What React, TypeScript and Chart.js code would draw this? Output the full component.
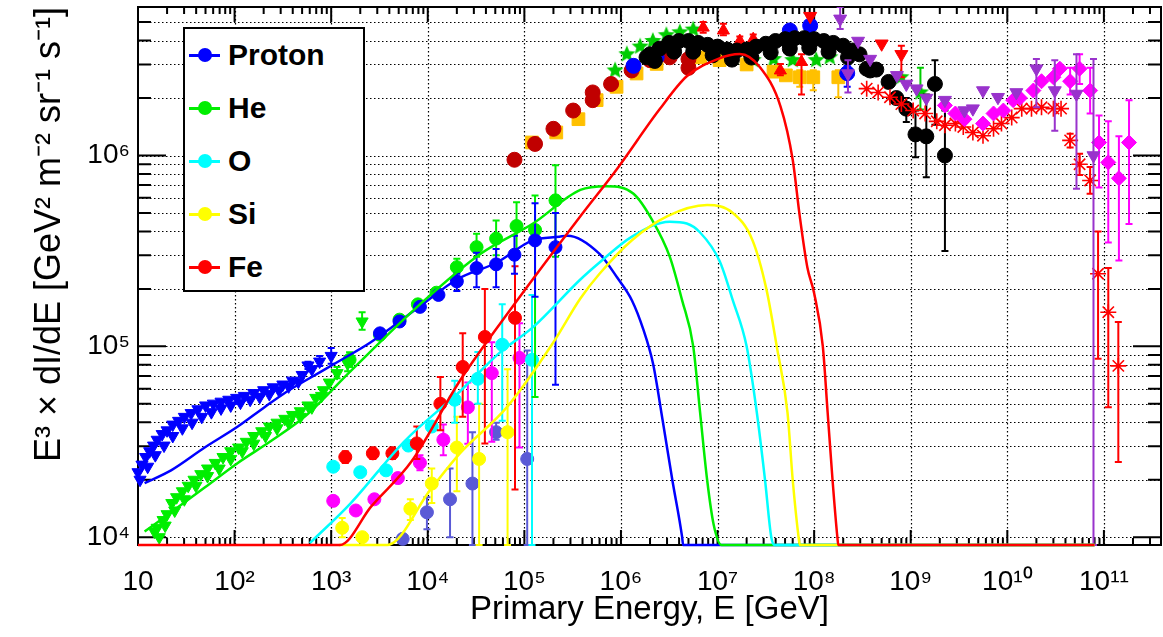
import React, { useEffect, useRef } from 'react';
import { Chart, registerables } from 'chart.js';

Chart.register(...registerables);

const FONT = "'Liberation Sans', Arial, Helvetica, sans-serif";

// ---------------- axes ----------------
const X_MIN = 10;
const X_MAX = 3.9e11;
const Y_MIN = 9.1e3;
const Y_MAX = 6.0e6;
const FLOOR = Y_MIN; // zero flux, drawn on the bottom edge

const xTickValues = [1e1, 1e2, 1e3, 1e4, 1e5, 1e6, 1e7, 1e8, 1e9, 1e10, 1e11];
const xTickLabels = ['10', '10²', '10³', '10⁴', '10⁵', '10⁶', '10⁷', '10⁸', '10⁹', '10¹⁰', '10¹¹'];
const yTickValues = [1e4, 1e5, 1e6];
const yTickLabels = ['10⁴', '10⁵', '10⁶'];
const xTitle = 'Primary Energy, E [GeV]';
const yTitle = 'E³ × dI/dE [GeV² m⁻² sr⁻¹ s⁻¹]';

const legendLabels = ['Proton', 'He', 'O', 'Si', 'Fe'];
const legendColors = ['#0000ff', '#00ee00', '#00ffff', '#ffff00', '#ff0000'];

// ---------------- model curves ----------------
const protonLineE = [11.7, 22, 49, 108, 204, 331, 537, 1175, 2570, 8300, 2.0e4, 5.2e4, 1.23e5, 2.3e5, 2.8e5, 6.0e5, 9.1e5, 1.3e6, 1.7e6, 2.15e6, 2.7e6, 3.4e6, 4.3e6, 4.4e6, 8e10];
const protonLineF = [1.92e4, 2.24e4, 2.95e4, 3.8e4, 4.8e4, 5.7e4, 6.6e4, 8.3e4, 1.05e5, 1.62e5, 2.24e5, 2.75e5, 3.6e5, 3.75e5, 3.8e5, 3.05e5, 2.3e5, 1.74e5, 1.23e5, 8.1e4, 4.1e4, 2.0e4, 1.0e4, FLOOR, FLOOR];

const heLineE = [11.7, 22, 49, 108, 240, 537, 1580, 8300, 3.5e4, 1.23e5, 3.8e5, 7.1e5, 1.35e6, 2.1e6, 3.2e6, 4.3e6, 5.6e6, 6.6e6, 7.8e6, 9.1e6, 1.1e7, 8e10];
const heLineF = [1.07e4, 1.35e4, 1.82e4, 2.45e4, 3.2e4, 4.3e4, 7.4e4, 1.66e5, 3.05e5, 4.4e5, 6.6e5, 6.9e5, 6.3e5, 4.6e5, 2.95e5, 1.74e5, 1.0e5, 4.5e4, 2.0e4, 1.17e4, FLOOR, FLOOR];

const oLineE = [600, 1580, 5.8e3, 2.15e4, 5.6e4, 1.23e5, 3.8e5, 6.0e5, 1.3e6, 3.2e6, 4.8e6, 6.6e6, 1.05e7, 1.44e7, 2.0e7, 2.55e7, 3.1e7, 3.6e7, 3.9e7, 8e10];
const oLineF = [9.3e3, 1.5e4, 3.2e4, 5.8e4, 9.3e4, 1.26e5, 2.24e5, 2.75e5, 3.76e5, 4.5e5, 4.4e5, 3.95e5, 2.8e5, 1.74e5, 1.0e5, 4.5e4, 2.0e4, 1.0e4, FLOOR, FLOOR];

const siLineE = [1.2e3, 3.8e3, 1.07e4, 2.15e4, 6.6e4, 2.0e5, 3.8e5, 6.0e5, 1.3e6, 3.0e6, 7.8e6, 1.44e7, 2.3e7, 3.2e7, 4.1e7, 5.3e7, 6.0e7, 6.9e7, 7.1e7, 8e10];
const siLineF = [FLOOR, FLOOR, 1.78e4, 2.75e4, 4.8e4, 1.05e5, 1.78e5, 2.4e5, 3.6e5, 4.8e5, 5.5e5, 5.0e5, 3.6e5, 2.0e5, 1.0e5, 4.5e4, 2.0e4, 1.0e4, FLOOR, FLOOR];

const feLineE = [10, 1.23e3, 2.6e3, 6.8e3, 2.15e4, 7.6e4, 3.8e5, 9.1e5, 2.5e6, 4.8e6, 1.0e7, 1.7e7, 2.75e7, 4.5e7, 6.0e7, 7.1e7, 8.5e7, 1.0e8, 1.23e8, 1.38e8, 1.55e8, 1.74e8, 1.78e8, 8e10];
const feLineF = [FLOOR, FLOOR, 1.45e4, 2.5e4, 6.6e4, 1.62e5, 4.8e5, 8.5e5, 1.74e6, 2.6e6, 3.2e6, 3.4e6, 2.9e6, 1.8e6, 9.5e5, 4.8e5, 2.6e5, 1.9e5, 1.0e5, 4.5e4, 2.0e4, 1.0e4, FLOOR, FLOOR];

// ---------------- proton data ----------------
const pTriAE = [10, 11, 12, 13.2, 14.5, 15.8, 17.8, 20, 22.9, 26.3, 30.2, 35.5, 41.7, 50.1, 60.3, 72.4, 87.1, 105, 126, 158, 200, 251, 316, 398, 501, 631];
const pTriAF = [2.19e4, 2.40e4, 2.63e4, 2.82e4, 3.02e4, 3.24e4, 3.47e4, 3.63e4, 3.89e4, 4.07e4, 4.27e4, 4.47e4, 4.68e4, 4.90e4, 5.01e4, 5.13e4, 5.25e4, 5.37e4, 5.50e4, 5.69e4, 5.89e4, 6.10e4, 6.31e4, 6.61e4, 7.08e4, 7.59e4];
const pTriBE = [10.5, 12.6, 15.1, 18.6, 22.9, 28.8, 36.3, 45.7, 57.5, 72.4, 91.2, 115, 145, 182, 229, 288, 363, 457];
const pTriBF = [2.0e4, 2.34e4, 2.69e4, 3.02e4, 3.39e4, 3.72e4, 3.98e4, 4.27e4, 4.52e4, 4.73e4, 4.90e4, 5.07e4, 5.25e4, 5.43e4, 5.62e4, 5.89e4, 6.17e4, 6.53e4];
const pTriErrE = [575, 759, 1000];
const pTriErrF = [7.94e4, 8.32e4, 8.91e4];
const pTriErrLo = [7.6e4, 7.9e4, 8.1e4];
const pTriErrHi = [8.3e4, 8.9e4, 9.8e4];
const pCircE = [3.2e3, 5.1e3, 8.3e3, 1.29e4, 2.0e4, 3.2e4, 5.1e4, 7.9e4, 1.29e5, 2.1e5];
const pCircF = [1.17e5, 1.35e5, 1.61e5, 1.86e5, 2.19e5, 2.57e5, 2.69e5, 3.02e5, 3.59e5, 3.31e5];
const pCircLo = [1.12e5, 1.29e5, 1.55e5, 1.78e5, 1.95e5, 2.04e5, 2.04e5, 2.4e5, 1.82e5, 6.3e4];
const pCircHi = [1.23e5, 1.41e5, 1.68e5, 1.95e5, 2.40e5, 3.09e5, 3.24e5, 3.8e5, 5.62e5, 5.0e5];

// ---------------- helium data ----------------
const heTriAE = [14.8, 16.6, 18.2, 20, 22.4, 25.1, 28.8, 33.1, 38, 44.7, 52.5, 63.1, 75.9, 91.2, 110, 132, 158, 191, 229, 275, 331, 398, 479, 575, 692, 832, 955];
const heTriAF = [1.07e4, 1.0e4, 1.23e4, 1.32e4, 1.51e4, 1.62e4, 1.74e4, 1.86e4, 2.0e4, 2.14e4, 2.29e4, 2.45e4, 2.63e4, 2.82e4, 2.95e4, 3.16e4, 3.39e4, 3.59e4, 3.80e4, 3.98e4, 4.17e4, 4.37e4, 4.57e4, 4.90e4, 5.37e4, 5.89e4, 6.46e4];
const heTriBE = [15.8, 19.1, 24, 30.2, 39.8, 52.5, 69.2, 91.2, 120, 158, 209, 275, 363, 479, 631, 794];
const heTriBF = [1.12e4, 1.15e4, 1.38e4, 1.58e4, 1.86e4, 2.09e4, 2.29e4, 2.57e4, 2.82e4, 3.09e4, 3.39e4, 3.72e4, 3.98e4, 4.27e4, 4.79e4, 5.50e4];
const heTriErrE = [1150, 1480, 2090];
const heTriErrF = [7.24e4, 8.13e4, 1.35e5];
const heTriErrLo = [6.8e4, 7.4e4, 1.22e5];
const heTriErrHi = [7.8e4, 8.9e4, 1.51e5];
const heCircE = [1.55e3, 3.2e3, 5.1e3, 7.9e3, 1.23e4, 2.0e4, 3.2e4, 5.1e4, 8.3e4, 1.29e5, 2.1e5];
const heCircF = [8.5e4, 1.15e5, 1.38e5, 1.66e5, 1.91e5, 2.6e5, 3.31e5, 3.67e5, 4.27e5, 4.07e5, 5.82e5];
const heCircLo = [7.8e4, 1.08e5, 1.3e5, 1.58e5, 1.8e5, 2.29e5, 2.95e5, 3.0e5, 3.16e5, 5.43e4, 2.95e5];
const heCircHi = [9.3e4, 1.23e5, 1.46e5, 1.74e5, 2.0e5, 2.88e5, 3.89e5, 4.57e5, 5.69e5, 6.17e5, 8.9e5];

// ---------------- heavier nuclei data ----------------
const feCircE = [1.4e3, 2.7e3, 4.3e3, 7.7e3, 1.35e4, 2.3e4, 3.9e4, 8.0e4];
const feCircF = [2.63e4, 2.75e4, 2.75e4, 3.1e4, 5.0e4, 7.8e4, 1.12e5, 1.41e5];
const feCircLo = [2.45e4, 2.57e4, 2.57e4, 2.57e4, 3.63e4, 4.27e4, 3.1e4, 1.78e4];
const feCircHi = [2.82e4, 2.95e4, 2.95e4, 3.8e4, 6.9e4, 1.17e5, 2.0e5, 2.63e5];

const oCircE = [1.05e3, 2.0e3, 3.7e3, 6.3e3, 1.1e4, 1.9e4, 3.3e4, 5.9e4, 1.2e5];
const oCircF = [2.34e4, 2.19e4, 2.24e4, 3.02e4, 3.8e4, 5.25e4, 6.76e4, 1.02e5, 8.5e4];
const oCircLo = [null, null, null, null, null, 3.98e4, 5.01e4, 4.07e4, FLOOR];
const oCircHi = [null, null, null, null, null, 6.61e4, 9.33e4, 1.66e5, 1.86e5];

const mgCircE = [1.05e3, 1.8e3, 2.8e3, 4.9e3, 8.3e3, 1.45e4, 2.6e4, 4.6e4, 8.9e4];
const mgCircF = [1.55e4, 1.38e4, 1.58e4, 2.04e4, 2.45e4, 3.24e4, 4.79e4, 7.24e4, 8.7e4];
const mgCircLo = [null, null, null, null, 2.24e4, 2.69e4, 3.09e4, 3.16e4, 2.95e4];
const mgCircHi = [null, null, null, null, 2.69e4, 3.89e4, 6.46e4, 1.05e5, 1.32e5];

const siCircE = [1.3e3, 2.1e3, 6.6e3, 1.1e4, 2.0e4, 3.4e4, 6.7e4];
const siCircF = [1.12e4, 1.0e4, 1.41e4, 1.91e4, 2.95e4, 2.57e4, 3.55e4];
const siCircLo = [1.0e4, null, 1.23e4, 1.51e4, 1.74e4, FLOOR, FLOOR];
const siCircHi = [1.26e4, null, 1.58e4, 2.29e4, 4.27e4, 5.01e4, 7.59e4];

const slCircE = [5.5e3, 9.8e3, 1.7e4, 2.9e4, 5.1e4, 1.07e5];
const slCircF = [9.8e3, 1.35e4, 1.58e4, 1.91e4, 3.55e4, 2.57e4];
const slCircLo = [null, 1.1e4, 1.0e4, FLOOR, 3.24e4, FLOOR];
const slCircHi = [null, 1.62e4, 2.29e4, 3.55e4, 3.98e4, 9.5e4];

// ---------------- knee / all-particle data ----------------
const drCircE = [7.9e4, 1.29e5, 2.0e5, 3.2e5, 5.1e5, 5.1e5, 7.9e5, 1.29e6, 2.0e6, 3.2e6, 5.0e6, 5.0e6];
const drCircF = [9.5e5, 1.15e6, 1.38e6, 1.72e6, 2.14e6, 1.95e6, 2.37e6, 2.79e6, 3.16e6, 3.27e6, 3.2e6, 2.88e6];

const orSqE = [1.2e5, 2.14e5, 3.63e5, 5.6e5, 9.0e5, 1.45e6, 2.34e6, 6.6e6, 1.05e7, 2.0e7, 3.8e7, 5.1e7, 7.1e7, 9.8e7, 1.78e8];
const orSqF = [1.17e6, 1.32e6, 1.55e6, 1.95e6, 2.29e6, 2.69e6, 3.02e6, 3.27e6, 3.16e6, 3.0e6, 2.75e6, 2.63e6, 2.57e6, 2.57e6, 2.57e6];
const orSqLo = [null, null, null, null, null, null, null, null, null, null, null, null, 2.29e6, 2.2e6, 2.02e6];
const orSqHi = [null, null, null, null, null, null, null, null, null, null, null, null, 2.8e6, 2.8e6, 2.8e6];

const gStarE = [8.7e5, 1.15e6, 1.58e6, 2.14e6, 2.95e6, 4.07e6, 5.6e6, 1.45e7, 2.34e7, 3.8e7, 6.0e7, 1.05e8, 1.45e8, 7.9e8, 1.26e9];
const gStarF = [2.79e6, 3.39e6, 3.72e6, 3.98e6, 4.27e6, 4.42e6, 4.57e6, 3.27e6, 3.16e6, 3.2e6, 3.16e6, 3.16e6, 3.27e6, 2.57e6, 2.14e6];
const gStarLo = [null, null, null, null, null, null, null, null, null, null, null, null, null, null, 1.74e6];
const gStarHi = [null, null, null, null, null, null, null, null, null, null, null, null, null, 3.0e6, 2.88e6];

const bKneeE = [1.35e6, 2.34e6, 5.6e7, 9.1e7, 2.2e8];
const bKneeF = [2.95e6, 3.27e6, 4.52e6, 4.79e6, 2.7e6];
const bKneeLo = [null, null, null, null, 2.29e6];
const bKneeHi = [null, null, null, null, 2.95e6];

const rTriUpE = [7.1e6, 1.15e7, 1.7e7, 2.34e7, 3.24e7, 4.47e7, 7.4e7];
const rTriUpF = [4.68e6, 4.52e6, 3.98e6, 4.07e6, 3.85e6, 2.79e6, 3.09e6];
const rTriUpLo = [4.4e6, 4.27e6, 3.8e6, 3.9e6, 3.7e6, 2.63e6, 2.09e6];
const rTriUpHi = [5.0e6, 4.9e6, 4.2e6, 4.3e6, 4.0e6, 3.02e6, 3.39e6];

const rTriDnE = [9.1e7, 5.0e8, 8.0e8];
const rTriDnF = [5.37e6, 3.85e6, 3.39e6];
const rTriDnLo = [null, null, 2.57e6];
const rTriDnHi = [5.9e6, 4.1e6, 3.76e6];

const blackE = [1.84e6, 2.0e6, 2.51e6, 3.16e6, 3.98e6, 5.0e6, 6.3e6, 7.9e6, 1.0e7, 1.26e7, 1.58e7, 2.0e7, 2.51e7, 3.16e7, 3.98e7, 5.0e7, 6.3e7, 7.9e7, 1.0e8, 1.26e8, 1.58e8, 2.0e8, 2.51e8, 2.95e8, 3.5e8, 3.8e8, 4.4e8, 5.9e8, 7.1e8, 9.0e8, 1.12e9, 1.45e9, 1.78e9, 2.26e9];
const blackF = [3.27e6, 3.39e6, 3.63e6, 3.89e6, 3.98e6, 3.98e6, 3.89e6, 3.80e6, 3.72e6, 3.59e6, 3.55e6, 3.59e6, 3.72e6, 3.85e6, 3.98e6, 4.07e6, 4.12e6, 4.12e6, 4.07e6, 3.98e6, 3.89e6, 3.76e6, 3.55e6, 3.39e6, 2.85e6, 2.79e6, 2.82e6, 2.43e6, 2.0e6, 1.76e6, 1.29e6, 1.26e6, 2.37e6, 1.0e6];
const blackLo = [null, null, null, null, null, null, null, null, null, null, null, null, null, null, null, null, null, null, null, null, null, null, null, null, null, null, null, null, null, 1.5e6, 9.8e5, 7.7e5, 1.45e6, 3.16e5];
const blackHi = [null, null, null, null, null, null, null, null, null, null, null, null, null, null, null, null, null, null, null, null, null, null, null, null, null, null, null, null, null, 2.0e6, 1.72e6, 2.09e6, 3.16e6, 1.72e6];
const blackBE = [2.24e6, 3.55e6, 5.6e6, 8.9e6, 1.41e7, 2.24e7, 3.55e7, 5.6e7, 8.9e7, 1.41e8, 2.24e8];
const blackBF = [3.13e6, 3.5e6, 3.5e6, 3.35e6, 3.18e6, 3.26e6, 3.47e6, 3.63e6, 3.67e6, 3.5e6, 3.27e6];

const puTriE = [1.86e8, 2.24e8, 2.85e8, 3.8e8, 7.2e8, 9.0e8, 1.15e9, 1.45e9, 2.26e9, 3.6e9, 4.4e9, 5.6e9, 8.0e9, 1.24e10, 2.0e10, 3.1e10, 5.2e10, 7.8e10];
const puTriF = [5.2e6, 2.69e6, 3.98e6, 3.2e6, 2.63e6, 2.37e6, 2.24e6, 2.0e6, 1.95e6, 1.72e6, 1.76e6, 2.19e6, 2.02e6, 2.14e6, 2.85e6, 2.19e6, 2.1e6, 1.0e6];
const puTriLo = [4.6e6, 2.14e6, null, null, null, null, null, null, null, null, null, null, null, null, 1.79e6, 1.35e6, 6.7e5, FLOOR];
const puTriHi = [6.0e6, 3.16e6, null, null, null, null, null, null, null, null, null, null, null, null, 3.2e6, 3.16e6, 3.39e6, 3.2e6];

const mdE = [2.26e9, 2.9e9, 3.6e9, 5.6e9, 7.2e9, 9.1e9, 1.15e10, 1.35e10, 1.86e10, 2.26e10, 3.0e10, 3.5e10, 4.47e10, 5.6e10, 7.2e10, 8.9e10, 1.11e11, 1.43e11, 1.82e11];
const mdF = [1.83e6, 1.66e6, 1.55e6, 1.47e6, 1.66e6, 1.72e6, 1.95e6, 2.0e6, 2.19e6, 2.45e6, 2.57e6, 2.85e6, 2.45e6, 2.85e6, 2.19e6, 1.17e6, 9.2e5, 7.6e5, 1.17e6];
const mdLo = [null, null, null, null, null, null, null, null, null, null, null, null, 2.09e6, 2.37e6, 1.66e6, 6.8e5, 3.5e5, 2.82e5, 4.37e5];
const mdHi = [null, null, null, null, null, null, null, null, null, null, null, null, 2.88e6, 3.39e6, 2.88e6, 1.62e6, 1.51e6, 1.26e6, 1.95e6];

const raE = [3.5e8, 4.6e8, 6.1e8, 8.0e8, 1.06e9, 1.41e9, 1.86e9, 2.26e9, 2.9e9, 3.5e9, 4.4e9, 5.6e9, 7.2e9, 8.7e9, 1.11e10, 1.41e10, 1.78e10, 2.26e10, 3.0e10, 3.6e10, 4.47e10, 5.6e10, 7.2e10, 8.7e10, 1.11e11, 1.41e11];
const raF = [2.24e6, 2.14e6, 2.02e6, 1.86e6, 1.72e6, 1.66e6, 1.51e6, 1.44e6, 1.47e6, 1.41e6, 1.32e6, 1.27e6, 1.38e6, 1.47e6, 1.58e6, 1.76e6, 1.76e6, 1.79e6, 1.76e6, 1.76e6, 1.2e6, 9.0e5, 7.4e5, 2.4e5, 1.51e5, 7.9e4];
const raLo = [null, null, null, null, null, null, null, null, null, null, null, null, null, null, null, null, null, null, null, null, 1.1e6, 7.9e5, 6.3e5, 8.6e4, 4.8e4, 2.48e4];
const raHi = [null, null, null, null, null, null, null, null, null, null, null, null, null, null, null, null, null, null, null, null, 1.3e6, 1.02e6, 8.7e5, 4.0e5, 2.57e5, 1.34e5];

// ---------------- helpers ----------------
const pts = (E: number[], F: number[]) => E.map((x, i) => ({ x, y: F[i] }));

function curve(label: string, E: number[], F: number[], color: string, order: number) {
  return {
    label,
    data: pts(E, F),
    showLine: true,
    borderColor: color,
    backgroundColor: color,
    borderWidth: 2.5,
    pointRadius: 0,
    pointHoverRadius: 0,
    cubicInterpolationMode: 'monotone',
    fill: false,
    order,
    clip: { left: 0, top: 0, right: 0, bottom: 4 },
  };
}

function marks(
  label: string, E: number[], F: number[], color: string, style: any, radius: number, order: number,
  lo?: (number | null)[], hi?: (number | null)[], extra: any = {}
) {
  return {
    label,
    data: pts(E, F),
    showLine: false,
    pointStyle: style,
    pointRadius: radius,
    pointHoverRadius: radius,
    backgroundColor: color,
    borderColor: color,
    borderWidth: 1,
    order,
    clip: 10,
    errLo: lo,
    errHi: hi,
    errColor: color,
    ...extra,
  };
}

function makeStar(color: string, r: number) {
  const c = document.createElement('canvas');
  const s = Math.ceil(r * 2 + 2);
  c.width = s;
  c.height = s;
  const g = c.getContext('2d')!;
  g.fillStyle = color;
  g.beginPath();
  for (let i = 0; i < 10; i++) {
    const a = -Math.PI / 2 + (i * Math.PI) / 5;
    const rr = i % 2 === 0 ? r : r * 0.45;
    g.lineTo(s / 2 + rr * Math.cos(a), s / 2 + rr * Math.sin(a));
  }
  g.closePath();
  g.fill();
  return c;
}

// error bars drawn just before each dataset's markers
const errorBarPlugin = {
  id: 'errorBars',
  beforeDatasetDraw(chart: any, args: any) {
    const ds = chart.data.datasets[args.index];
    if (!ds.errLo || !ds.errHi) return;
    const { ctx, chartArea: a } = chart;
    const ys = chart.scales.y;
    ctx.save();
    ctx.beginPath();
    ctx.rect(a.left, a.top, a.right - a.left, a.bottom - a.top + 2);
    ctx.clip();
    ctx.strokeStyle = ds.errColor;
    ctx.lineWidth = 2;
    args.meta.data.forEach((pt: any, i: number) => {
      const lo = ds.errLo[i];
      const hi = ds.errHi[i];
      if (lo == null || hi == null) return;
      const x = pt.x;
      const y1 = ys.getPixelForValue(lo);
      const y2 = ys.getPixelForValue(hi);
      ctx.beginPath();
      ctx.moveTo(x, y1);
      ctx.lineTo(x, y2);
      ctx.moveTo(x - 3.5, y1);
      ctx.lineTo(x + 3.5, y1);
      ctx.moveTo(x - 3.5, y2);
      ctx.lineTo(x + 3.5, y2);
      ctx.stroke();
    });
    ctx.restore();
  },
};

// dotted grid, inward tick marks and frame
const framePlugin = {
  id: 'frameTicks',
  beforeDatasetsDraw(chart: any) {
    const { ctx, chartArea: a } = chart;
    const xs = chart.scales.x;
    const ys = chart.scales.y;
    ctx.save();
    ctx.strokeStyle = '#000';
    ctx.lineWidth = 1.2;
    ctx.setLineDash([1.5, 2.5]);
    ctx.beginPath();
    xTickValues.forEach((v) => {
      if (v <= X_MIN || v >= X_MAX) return;
      const px = Math.round(xs.getPixelForValue(v)) + 0.5;
      ctx.moveTo(px, a.top);
      ctx.lineTo(px, a.bottom);
    });
    for (let d = 3; d <= 6; d++) {
      for (let m = 1; m <= 9; m++) {
        const v = m * Math.pow(10, d);
        if (v <= Y_MIN || v >= Y_MAX) continue;
        const py = Math.round(ys.getPixelForValue(v)) + 0.5;
        ctx.moveTo(a.left, py);
        ctx.lineTo(a.right, py);
      }
    }
    ctx.stroke();
    ctx.setLineDash([]);
    ctx.lineWidth = 2;
    ctx.beginPath();
    for (let d = 1; d <= 11; d++) {
      for (let m = 1; m <= 9; m++) {
        const v = m * Math.pow(10, d);
        if (v < X_MIN || v > X_MAX) continue;
        const px = xs.getPixelForValue(v);
        const len = m === 1 ? 15 : 7;
        ctx.moveTo(px, a.bottom);
        ctx.lineTo(px, a.bottom - len);
        ctx.moveTo(px, a.top);
        ctx.lineTo(px, a.top + len);
      }
    }
    for (let d = 3; d <= 6; d++) {
      for (let m = 1; m <= 9; m++) {
        const v = m * Math.pow(10, d);
        if (v < Y_MIN || v > Y_MAX) continue;
        const py = ys.getPixelForValue(v);
        const len = m === 1 ? 28 : 13;
        ctx.moveTo(a.left, py);
        ctx.lineTo(a.left + len, py);
        ctx.moveTo(a.right, py);
        ctx.lineTo(a.right - len, py);
      }
    }
    ctx.stroke();
    ctx.lineWidth = 2;
    ctx.strokeRect(a.left, a.top, a.right - a.left, a.bottom - a.top);
    ctx.restore();
  },
};

function Legend() {
  return (
    <div
      style={{
        position: 'absolute', left: 183, top: 27, width: 182, height: 265,
        border: '2px solid #000', boxSizing: 'border-box', background: '#fff',
        fontFamily: FONT, fontWeight: 'bold', fontSize: 30, color: '#000',
      }}
    >
      {legendLabels.map((lab, i) => (
        <div
          key={lab}
          style={{ position: 'absolute', left: 0, top: 26 + i * 53 - 18, height: 36, display: 'flex', alignItems: 'center' }}
        >
          <div style={{ position: 'relative', width: 43, height: 36 }}>
            <div style={{ position: 'absolute', left: 4, top: 16.5, width: 31, height: 3, background: legendColors[i] }} />
            <div style={{ position: 'absolute', left: 13, top: 11, width: 14, height: 14, borderRadius: '50%', background: legendColors[i] }} />
          </div>
          <span style={{ lineHeight: '36px', whiteSpace: 'nowrap' }}>{lab}</span>
        </div>
      ))}
    </div>
  );
}

export default function App() {
  const ref = useRef<HTMLCanvasElement>(null);

  useEffect(() => {
    if (!ref.current) return;
    const star = makeStar('#00cc00', 9);
    const C = { p: '#0000ff', he: '#00ee00', o: '#00ffff', si: '#ffff00', fe: '#ff0000' };

    const datasets: any[] = [
      curve('Fe model', feLineE, feLineF, C.fe, 0),
      curve('Si model', siLineE, siLineF, C.si, 1),
      curve('O model', oLineE, oLineF, C.o, 2),
      curve('He model', heLineE, heLineF, C.he, 3),
      curve('Proton model', protonLineE, protonLineF, C.p, 4),

      marks('Purple', puTriE, puTriF, '#9933cc', 'triangle', 7.5, 6, puTriLo, puTriHi, { pointRotation: 180 }),
      marks('Magenta diamonds', mdE, mdF, '#ff00ff', 'rectRot', 7.5, 7, mdLo, mdHi),
      marks('Red asterisks', raE, raF, '#ff0000', 'star', 8, 8, raLo, raHi, { borderWidth: 1.6 }),
      marks('All-particle', blackE, blackF, '#000000', 'circle', 7.5, 9, blackLo, blackHi),
      marks('All-particle 2', blackBE, blackBF, '#000000', 'circle', 7.5, 9),
      marks('Red up', rTriUpE, rTriUpF, '#ff0000', 'triangle', 7, 10, rTriUpLo, rTriUpHi),
      marks('Red down', rTriDnE, rTriDnF, '#ff0000', 'triangle', 7.5, 10, rTriDnLo, rTriDnHi, { pointRotation: 180 }),
      marks('Blue knee', bKneeE, bKneeF, '#0000ff', 'circle', 7.5, 11, bKneeLo, bKneeHi),
      marks('Dark red', drCircE, drCircF, '#c00000', 'circle', 7.5, 12),
      marks('Orange', orSqE, orSqF, '#ffc000', 'rect', 9, 13, orSqLo, orSqHi),
      marks('Green stars', gStarE, gStarF, '#00cc00', star, 9, 14, gStarLo, gStarHi),

      marks('Proton', pCircE, pCircF, C.p, 'circle', 6.5, 20, pCircLo, pCircHi),
      marks('He', heCircE, heCircF, C.he, 'circle', 6.5, 21, heCircLo, heCircHi),
      marks('Fe', feCircE, feCircF, C.fe, 'circle', 6.5, 22, feCircLo, feCircHi),
      marks('O', oCircE, oCircF, C.o, 'circle', 6.5, 23, oCircLo, oCircHi),
      marks('Ne-Mg', mgCircE, mgCircF, '#ff00ff', 'circle', 6.5, 24, mgCircLo, mgCircHi),
      marks('Si', siCircE, siCircF, C.si, 'circle', 6.5, 25, siCircLo, siCircHi),
      marks('S-Ar', slCircE, slCircF, '#5a5ad6', 'circle', 6.5, 26, slCircLo, slCircHi),
      marks('Proton low A', pTriAE, pTriAF, C.p, 'triangle', 7, 27, undefined, undefined, { pointRotation: 180 }),
      marks('Proton low B', pTriBE, pTriBF, C.p, 'triangle', 7, 27, undefined, undefined, { pointRotation: 180 }),
      marks('Proton low err', pTriErrE, pTriErrF, C.p, 'triangle', 7, 27, pTriErrLo, pTriErrHi, { pointRotation: 180 }),
      marks('He low A', heTriAE, heTriAF, C.he, 'triangle', 7, 28, undefined, undefined, { pointRotation: 180 }),
      marks('He low B', heTriBE, heTriBF, C.he, 'triangle', 7, 28, undefined, undefined, { pointRotation: 180 }),
      marks('He low err', heTriErrE, heTriErrF, C.he, 'triangle', 7, 28, heTriErrLo, heTriErrHi, { pointRotation: 180 }),
    ];

    const chart = new Chart(ref.current, {
      type: 'scatter',
      data: { datasets },
      plugins: [framePlugin, errorBarPlugin],
      options: {
        responsive: false,
        animation: false,
        devicePixelRatio: 1,
        events: [],
        layout: { autoPadding: false, padding: { left: 0, right: 2, top: 7, bottom: 0 } },
        plugins: { legend: { display: false }, tooltip: { enabled: false } },
        scales: {
          x: {
            type: 'logarithmic',
            min: X_MIN,
            max: X_MAX,
            grid: { display: false, drawTicks: false },
            border: { display: false },
            afterBuildTicks: (s: any) => { s.ticks = xTickValues.map((v) => ({ value: v })); },
            afterFit: (s: any) => { s.height = 92; s.paddingLeft = 0; s.paddingRight = 0; },
            ticks: {
              autoSkip: false, maxRotation: 0, minRotation: 0, padding: 20, color: '#000',
              font: { family: FONT, size: 28 },
              callback: (_v: any, i: number) => xTickLabels[i],
            },
            title: { display: true, text: xTitle, color: '#000', font: { family: FONT, size: 33 }, padding: { top: 0, bottom: 7 } },
          },
          y: {
            type: 'logarithmic',
            min: Y_MIN,
            max: Y_MAX,
            grid: { display: false, drawTicks: false },
            border: { display: false },
            afterBuildTicks: (s: any) => { s.ticks = yTickValues.map((v) => ({ value: v })); },
            afterFit: (s: any) => { s.width = 138; s.paddingTop = 0; s.paddingBottom = 0; },
            ticks: {
              autoSkip: false, padding: 8, color: '#000',
              font: { family: FONT, size: 28 },
              callback: (_v: any, i: number) => yTickLabels[i],
            },
            title: { display: true, text: yTitle, align: 'end', color: '#000', font: { family: FONT, size: 36 }, padding: { top: 28, bottom: 0 } },
          },
        },
      } as any,
    });
    return () => chart.destroy();
  }, []);

  return (
    <div style={{ position: 'absolute', left: 0, top: 0, width: 1163, height: 637, background: '#fff' }}>
      <canvas ref={ref} width={1163} height={637} style={{ display: 'block' }} />
      <Legend />
    </div>
  );
}
